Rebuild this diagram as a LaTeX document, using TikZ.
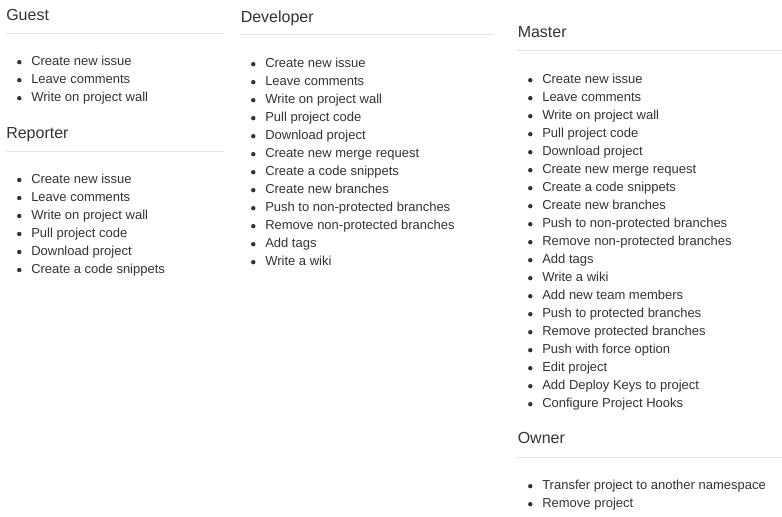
\documentclass[tikz,border=0pt]{standalone}
\usepackage{fontspec}
\setmainfont{Liberation Sans}
\definecolor{txt}{HTML}{333333}
\definecolor{rulec}{HTML}{E4E4E4}
\begin{document}
\begin{tikzpicture}[x=0.75pt,y=-0.75pt,
  head/.style={anchor=base west,inner sep=0pt,font=\fontsize{12}{14}\selectfont,text=txt},
  item/.style={anchor=base west,inner sep=0pt,font=\fontsize{9.75}{12}\selectfont,text=txt},
  bul/.style={circle,fill=txt,draw=none,inner sep=0pt,minimum size=3.3pt},
  hrule/.style={draw=rulec,line width=0.75pt}]
\useasboundingbox[fill=white] (0,0) rectangle (782,517);

% Guest
\node[head] (guest) at (6,20.7) {Guest};
\coordinate (gl) at (6,33.5); \coordinate (gr) at (224,33.5);
\draw[hrule] (gl) -- (gr);
\foreach \t [count=\i] in {Create new issue,Leave comments,Write on project wall}{
  \node[item] (g\i) at (31,{65.7+18*(\i-1)}) {\t};
  \node[bul] (gb\i) at (19.3,{62.2+18*(\i-1)}) {};
}

% Reporter
\node[head] (reporter) at (6,138.3) {Reporter};
\coordinate (rl) at (6,151.5); \coordinate (rr) at (224,151.5);
\draw[hrule] (rl) -- (rr);
\foreach \t [count=\i] in {Create new issue,Leave comments,Write on project wall,Pull project code,Download project,Create a code snippets}{
  \node[item] (r\i) at (31,{183.5+18*(\i-1)}) {\t};
  \node[bul] (rb\i) at (19.3,{180+18*(\i-1)}) {};
}

% Developer
\node[head] (developer) at (240.5,22.2) {Developer};
\coordinate (dl) at (240,35); \coordinate (dr) at (494,35);
\draw[hrule] (dl) -- (dr);
\foreach \t [count=\i] in {Create new issue,Leave comments,Write on project wall,Pull project code,Download project,Create new merge request,Create a code snippets,Create new branches,Push to non-protected branches,Remove non-protected branches,Add tags,Write a wiki}{
  \node[item] (d\i) at (265,{67.7+18*(\i-1)}) {\t};
  \node[bul] (db\i) at (253.3,{64.2+18*(\i-1)}) {};
}

% Master
\node[head] (master) at (517.5,37.7) {Master};
\coordinate (ml) at (517,50.5); \coordinate (mr) at (782,50.5);
\draw[hrule] (ml) -- (mr);
\foreach \t [count=\i] in {Create new issue,Leave comments,Write on project wall,Pull project code,Download project,Create new merge request,Create a code snippets,Create new branches,Push to non-protected branches,Remove non-protected branches,Add tags,Write a wiki,Add new team members,Push to protected branches,Remove protected branches,Push with force option,Edit project,Add Deploy Keys to project,Configure Project Hooks}{
  \node[item] (m\i) at (542,{83.7+18*(\i-1)}) {\t};
  \node[bul] (mb\i) at (530.3,{80.2+18*(\i-1)}) {};
}

% Owner
\node[head] (owner) at (517.5,443.8) {Owner};
\coordinate (ol) at (517,457); \coordinate (or) at (782,457);
\draw[hrule] (ol) -- (or);
\foreach \t [count=\i] in {Transfer project to another namespace,Remove project}{
  \node[item] (o\i) at (542,{489.7+18*(\i-1)}) {\t};
  \node[bul] (ob\i) at (530.3,{486.2+18*(\i-1)}) {};
}
\end{tikzpicture}
\end{document}
